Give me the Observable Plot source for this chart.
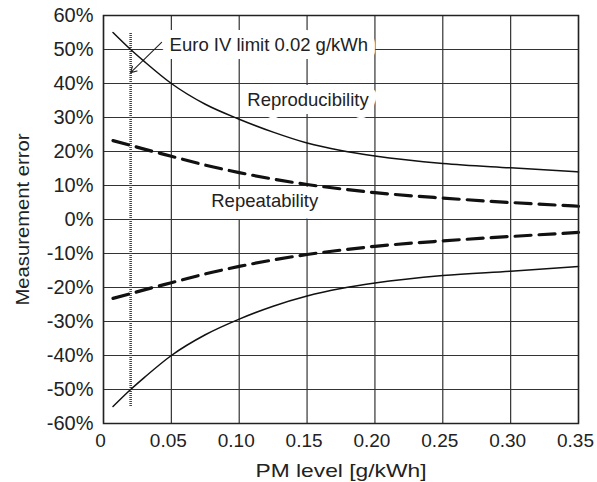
<!DOCTYPE html>
<html>
<head>
<meta charset="utf-8">
<script src="https://cdn.jsdelivr.net/npm/d3@7"></script>
<script src="https://cdn.jsdelivr.net/npm/@observablehq/plot@0.6"></script>
<style>
  body { margin: 0; background: #fff; }
  #chart svg { display: block; }
</style>
</head>
<body>
<div id="chart"></div>
<script>
// ---- data ----
const pmLevel = [0.007, 0.02, 0.03, 0.05, 0.075, 0.10, 0.125, 0.15, 0.175, 0.20, 0.25, 0.30, 0.35];
const reproducibilityUpper = [0.55, 0.50, 0.465, 0.40, 0.339, 0.295, 0.257, 0.225, 0.203, 0.187, 0.165, 0.152, 0.14];
const reproducibilityLower = [-0.55, -0.50, -0.465, -0.40, -0.339, -0.293, -0.255, -0.225, -0.203, -0.187, -0.165, -0.152, -0.138];
const repeatabilityUpper = [0.232, 0.218, 0.207, 0.186, 0.16, 0.138, 0.119, 0.103, 0.09, 0.079, 0.063, 0.05, 0.039];
const repeatabilityLower = [-0.232, -0.218, -0.207, -0.186, -0.16, -0.138, -0.119, -0.103, -0.09, -0.079, -0.063, -0.05, -0.038];

const yTicks = [-0.6, -0.5, -0.4, -0.3, -0.2, -0.1, 0, 0.1, 0.2, 0.3, 0.4, 0.5, 0.6];
const yTickLabels = ["-60%", "-50%", "-40%", "-30%", "-20%", "-10%", "0%", "10%", "20%", "30%", "40%", "50%", "60%"];
const xTicks = [0, 0.05, 0.10, 0.15, 0.20, 0.25, 0.30, 0.35];
const xTickLabels = ["0", "0.05", "0.10", "0.15", "0.20", "0.25", "0.30", "0.35"];

const euroLimit = [0.02];
const euroLimitSpan = [-0.55, 0.55];
const arrowStart = [0.0428, 0.521];
const arrowEnd = [0.02, 0.432];

const labelTexts = ["Euro IV limit 0.02 g/kWh", "Reproducibility", "Repeatability"];
const labelX = [0.0487, 0.106, 0.0794];
const labelY = [0.512, 0.35, 0.0556];

const xTitle = "PM level [g/kWh]";
const yTitle = "Measurement error";

// ---- tables built from the arrays ----
const toSeries = (vals) => pmLevel.map((x, i) => ({x, y: vals[i]}));
const solidSeries = [reproducibilityUpper, reproducibilityLower].map(toSeries);
const dashedSeries = [repeatabilityUpper, repeatabilityLower].map(toSeries);
const labels = labelTexts.map((t, i) => ({text: t, x: labelX[i], y: labelY[i]}));
const arrowData = [{x1: arrowStart[0], y1: arrowStart[1], x2: arrowEnd[0], y2: arrowEnd[1]}];

const font = "'Liberation Sans', Arial, Helvetica, sans-serif";
const ink = "#222";

const chart = Plot.plot({
  width: 597,
  height: 482,
  marginLeft: 103,
  marginRight: 19,
  marginTop: 15,
  marginBottom: 59,
  style: {fontFamily: font, fontSize: "19px", color: ink, background: "#fff", overflow: "visible"},
  x: {domain: [0, 0.35], ticks: xTicks},
  y: {domain: [-0.6, 0.6], ticks: yTicks},
  marks: [
    Plot.gridX(xTicks, {stroke: "#333", strokeOpacity: 1, strokeWidth: 1.2}),
    Plot.gridY(yTicks, {stroke: "#333", strokeOpacity: 1, strokeWidth: 1.2}),
    Plot.axisX(xTicks, {
      tickSize: 0, tickPadding: 10, dx: -3, fontSize: 19, fill: ink, label: null,
      tickFormat: (d) => xTickLabels[xTicks.findIndex((t) => Math.abs(t - d) < 1e-9)]
    }),
    Plot.axisY(yTicks, {
      tickSize: 0, tickPadding: 10, fontSize: 20, fill: ink, label: null,
      tickFormat: (d) => yTickLabels[yTicks.findIndex((t) => Math.abs(t - d) < 1e-9)]
    }),
    Plot.text(labels, {
      x: "x", y: "y", text: "text", textAnchor: "start", lineAnchor: "middle",
      fontSize: 18.5, fill: ink, stroke: "#fff", strokeWidth: 16, strokeLinejoin: "round"
    }),
    Plot.ruleX(euroLimit, {y1: euroLimitSpan[0], y2: euroLimitSpan[1], stroke: "#444", strokeWidth: 2.6, strokeDasharray: "1,1"}),
    Plot.arrow(arrowData, {x1: "x1", y1: "y1", x2: "x2", y2: "y2", stroke: ink, strokeWidth: 1.1, headLength: 9, bend: 0, insetStart: 0, insetEnd: 0}),
    ...solidSeries.map((s) => Plot.line(s, {x: "x", y: "y", curve: "monotone-x", stroke: "#111", strokeWidth: 1.5})),
    ...dashedSeries.map((s) => Plot.line(s, {x: "x", y: "y", curve: "monotone-x", stroke: "#111", strokeWidth: 3.2, strokeDasharray: "16,8"})),
    Plot.frame({stroke: "#222", strokeWidth: 1.5}),
    Plot.text([xTitle], {text: (d) => d, frameAnchor: "bottom", dy: 53, lineAnchor: "bottom", textAnchor: "middle", fontSize: 19, fill: ink}),
    Plot.text([yTitle], {text: (d) => d, frameAnchor: "left", dx: -75, rotate: -90, lineAnchor: "bottom", textAnchor: "middle", fontSize: 19, fill: ink})
  ]
});

// widen the axis titles' glyphs to the reference's lengths
const titleLengths = new Map([[xTitle, 171], [yTitle, 172]]);
chart.querySelectorAll("text").forEach((t) => {
  const len = titleLengths.get(t.textContent);
  if (len) {
    t.setAttribute("textLength", len);
    t.setAttribute("lengthAdjust", "spacingAndGlyphs");
  }
});

document.getElementById("chart").appendChild(chart);
</script>
</body>
</html>
